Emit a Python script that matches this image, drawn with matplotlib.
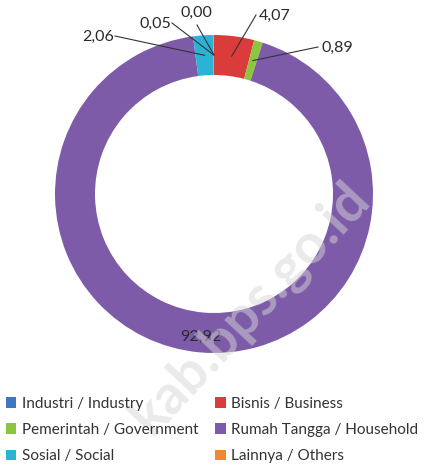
import numpy as np
import matplotlib.pyplot as plt

# data
labels = ["Industri / Industry", "Bisnis / Business", "Pemerintah / Government",
          "Rumah Tangga / Household", "Sosial / Social", "Lainnya / Others"]
values = [0.00, 4.07, 0.89, 92.92, 2.06, 0.05]
value_text = ["0,00", "4,07", "0,89", "92,92", "2,06", "0,05"]
colors = ["#3E78C2", "#DA3B3B", "#8CC63F", "#7D5BA9", "#2BB3D6", "#F08A2A"]

plt.rcParams['font.family'] = ['Lato', 'DejaVu Sans']

W, H = 429, 467
fig = plt.figure(figsize=(W / 100, H / 100), dpi=100)
ax = fig.add_axes([0, 0, 1, 1])

cx, cy = 214, H - 194
R, ring = 159, 40
wedges, _ = ax.pie(values, colors=colors, startangle=90, counterclock=False,
                   radius=R, center=(cx, cy),
                   wedgeprops=dict(width=ring, edgecolor='none'))
ax.set_xlim(0, W)
ax.set_ylim(0, H)
ax.set_aspect('equal')
ax.axis('off')

# label positions (pixel, y from top); None = label inside ring
text_pos = [(196, 13), (275, 16), (337, 48), None, (98, 37), (155, 24)]
line_start = [(197, 25), (256, 15), (318, 47), None, (115, 36), (172, 23)]

cum = np.cumsum([0] + values)
tot = sum(values)
for i, v in enumerate(values):
    mid = (cum[i] + v / 2) / tot * 2 * np.pi
    rm = R - ring / 2
    px = cx + rm * np.sin(mid)
    py = cy + rm * np.cos(mid)
    if text_pos[i] is None:
        ax.text(px - 1, py - 4, value_text[i], ha='center', va='center',
                fontsize=11.5, color='#2a2a2a')
        continue
    tx, ty = text_pos[i]
    ax.text(tx, H - ty, value_text[i], ha='center', va='center',
            fontsize=11.5, color='#2a2a2a')
    lx, ly = line_start[i]
    ax.plot([lx, px], [H - ly, py], color='#333333', lw=0.8)

# watermark
ax.text(250, H - 308, "kab.bps.go.id", rotation=47, ha='center', va='center',
        fontsize=40, fontweight='bold', color='#d6d6d6', alpha=0.5, zorder=5)

order = [0, 2, 4, 1, 3, 5]
fig.legend([wedges[i] for i in order], [labels[i] for i in order],
           ncol=2, loc='lower left', bbox_to_anchor=(-0.012, -0.015),
           frameon=False, fontsize=11, handlelength=0.7, handleheight=0.7,
           handletextpad=0.35, columnspacing=1.1, labelspacing=0.8,
           borderaxespad=0.3, labelcolor='#333333')

fig.savefig("out.png", dpi=100)
